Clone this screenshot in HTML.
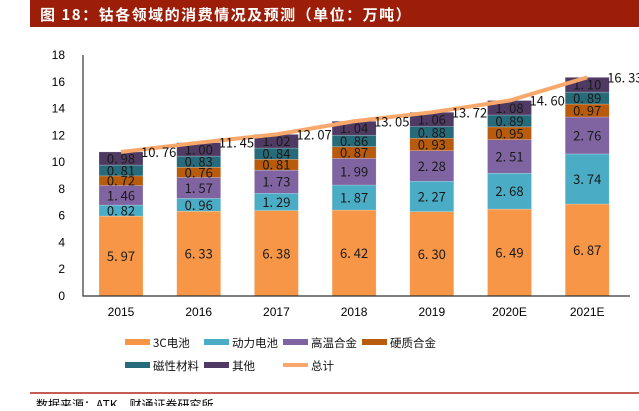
<!DOCTYPE html>
<html><head><meta charset="utf-8">
<style>
body{margin:0;width:639px;height:406px;overflow:hidden;background:#fff;font-family:"Liberation Sans","Noto Sans CJK SC",sans-serif;}
</style></head><body>
<svg width="639" height="406" xmlns="http://www.w3.org/2000/svg">
<rect x="30" y="0" width="609" height="27" fill="#9c1e09"/>
<text x="40" y="20" fill="#fff" font-size="15" font-weight="bold" font-family="'Noto Sans CJK SC',sans-serif" letter-spacing="1.5">图 18：钴各领域的消费情况及预测（单位：万吨）</text>
<g id="plot"></g>
<line x1="30" y1="393" x2="639" y2="393" stroke="#b0291a" stroke-width="1.5"/>
<text x="36" y="409" font-size="12" font-family="'Noto Sans CJK SC',sans-serif" fill="#000">数据来源：ATK，财通证券研究所</text>
</svg>
<script>
const categories=["2015","2016","2017","2018","2019","2020E","2021E"];
const s3C=[5.97,6.33,6.38,6.42,6.30,6.49,6.87];
const sPower=[0.82,0.96,1.29,1.87,2.27,2.68,3.74];
const sAlloy=[1.46,1.57,1.73,1.99,2.28,2.51,2.76];
const sHard=[0.72,0.76,0.81,0.87,0.93,0.95,0.97];
const sMag=[0.81,0.83,0.84,0.86,0.88,0.89,0.89];
const sOther=[0.98,1.00,1.02,1.04,1.06,1.08,1.10];
const totals=[10.76,11.45,12.07,13.05,13.72,14.60,16.33];
const yTicks=[0,2,4,6,8,10,12,14,16,18];
const seriesNames=["3C电池","动力电池","高温合金","硬质合金","磁性材料","其他"];
const NS="http://www.w3.org/2000/svg";
const g=document.getElementById('plot');
const colors=["#f79646","#4bacc6","#8064a2","#b85b0c","#276b7a","#4f3a63"];
const series=[s3C,sPower,sAlloy,sHard,sMag,sOther];
const y0=296,yTop=55,yMax=18;
const yS=v=>y0-v*(y0-yTop)/yMax;
const xS=i=>121+i*77.7;
const bw=44;
function mk(t,a,txt){const e=document.createElementNS(NS,t);for(const k in a)e.setAttribute(k,a[k]);if(txt!==undefined)e.textContent=txt;g.appendChild(e);return e;}
yTicks.forEach(v=>{
 const t=mk('text',{x:65,y:yS(v)+4,'font-size':12,'text-anchor':'end',fill:'#000'},String(v));
 
 
});
categories.forEach((c,i)=>{
 let acc=0;
 series.forEach((s,k)=>{
  const v=s[i];
  const r=mk('rect',{x:xS(i)-bw/2,y:yS(acc+v),width:bw,height:yS(acc)-yS(acc+v),fill:colors[k],stroke:'#fff','stroke-width':0.5,'stroke-opacity':0.4});
  
  
  const t=mk('text',{x:xS(i),y:(yS(acc)+yS(acc+v))/2+5,'font-size':13,'text-anchor':'middle',fill:'#1a1a1a','font-family':"'Noto Sans CJK SC',sans-serif"},v.toFixed(2).replace('.','. '));
  
  
  acc+=v;
 });
 const xt=mk('text',{x:xS(i),y:316,'font-size':12,'text-anchor':'middle',fill:'#000'},c);
 
 
});
const ax=mk('path',{d:`M83 ${yTop} V${y0} H630`,stroke:'#333','stroke-width':1.2,fill:'none'});


const line=mk('polyline',{points:totals.map((v,i)=>xS(i)+','+yS(v)).join(' '),fill:'none',stroke:'#f9a86b','stroke-width':4,'stroke-linejoin':'round'});


totals.forEach((v,i)=>{
 const t=mk('text',{x:xS(i)+20,y:yS(v)+5,'font-size':13,fill:'#111','font-family':"'Noto Sans CJK SC',sans-serif"},v.toFixed(2).replace('.','. '));
 
 
});
const legPos=[[125,342],[204,342],[283,342],[362,342],[125,365],[204,365]];
seriesNames.forEach((n,k)=>{
 const r=mk('rect',{x:legPos[k][0],y:legPos[k][1]-3,width:25,height:6,fill:colors[k]});
 
 
 const t=mk('text',{x:legPos[k][0]+28,y:legPos[k][1]+5,'font-size':11.5,fill:'#111','font-family':"'Noto Sans CJK SC',sans-serif"},n);
 
 
});
const ll=mk('line',{x1:283,y1:365,x2:308,y2:365,stroke:'#f9a86b','stroke-width':4});


const lt=mk('text',{x:311,y:370,'font-size':11.5,fill:'#111','font-family':"'Noto Sans CJK SC',sans-serif"},'总计');


</script>
</body></html>
